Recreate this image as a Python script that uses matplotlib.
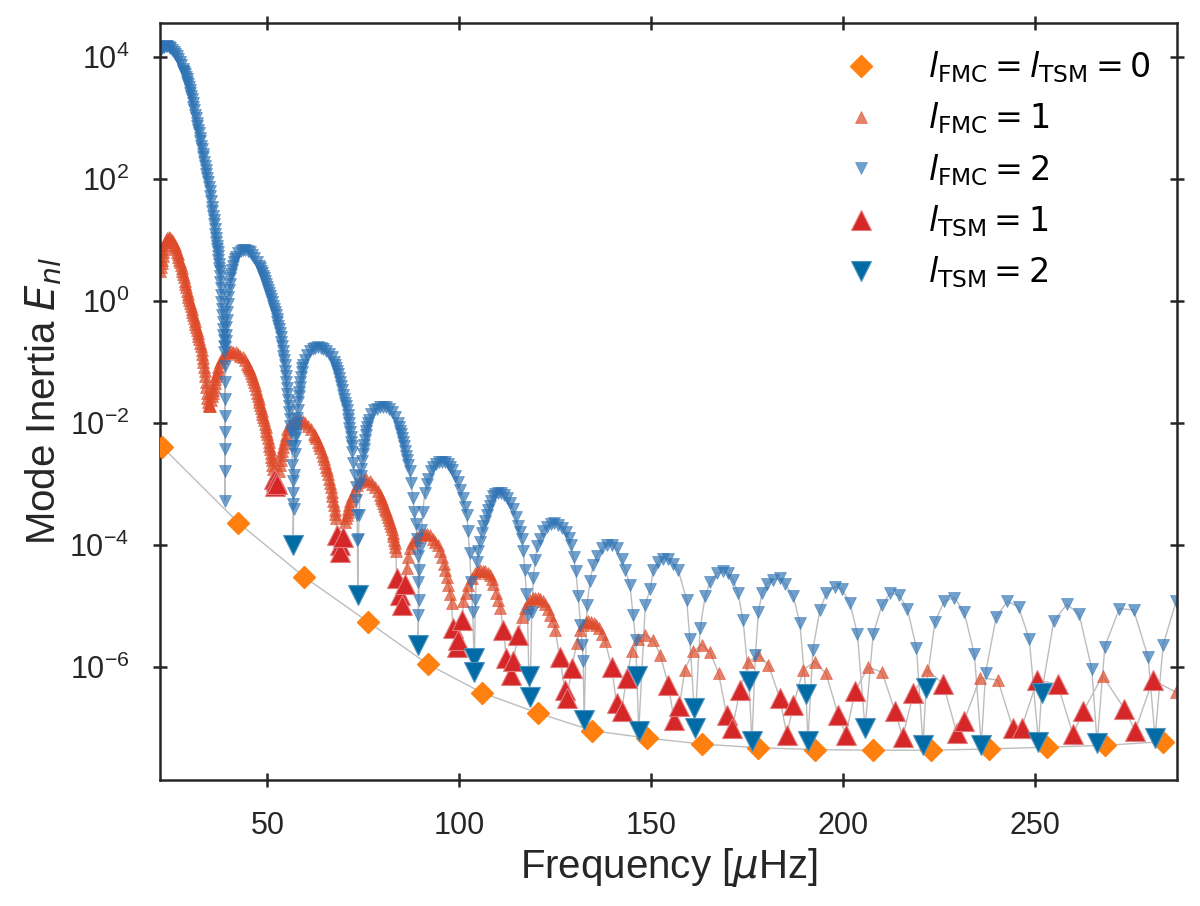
import numpy as np
import matplotlib
matplotlib.use('Agg')
import matplotlib.pyplot as plt
from matplotlib.ticker import NullLocator

plt.rcParams['font.family'] = ['Liberation Sans', 'DejaVu Sans']
plt.rcParams['mathtext.fontset'] = 'dejavusans'

# columns: frequency [muHz], log10 of mode inertia

# radial modes
l0 = np.array([
    [22.6, -2.39], [42.4, -3.63], [59.6, -4.52], [76.3, -5.26], [91.8, -5.95],
    [106.0, -6.42], [120.5, -6.75], [134.7, -7.04], [148.9, -7.16], [163.4, -7.26],
    [178.0, -7.32], [192.7, -7.35], [207.9, -7.36], [222.9, -7.36], [238.1, -7.34],
    [253.1, -7.31], [268.3, -7.28], [283.5, -7.22],
])

# l = 1, full mode calculation
l1_fmc = np.array([
    [22.1, 0.50], [22.25, 0.56], [22.4, 0.62], [22.55, 0.68], [22.7, 0.74], [22.85, 0.80],
    [23.0, 0.86], [23.2, 0.92], [23.4, 0.97], [23.6, 1.0], [23.8, 1.03], [24.2, 1.05],
    [24.6, 1.04], [25.0, 1.01], [25.4, 0.97], [25.8, 0.92], [26.0, 0.89], [26.2, 0.85],
    [26.4, 0.81], [26.6, 0.77], [26.8, 0.73], [27.0, 0.68], [27.2, 0.64], [27.4, 0.59],
    [27.6, 0.54], [27.8, 0.49], [28.0, 0.44], [28.2, 0.39], [28.4, 0.34], [28.6, 0.28],
    [28.8, 0.23], [29.0, 0.17], [29.2, 0.12], [29.4, 0.07], [29.6, 0.02], [29.8, -0.03],
    [30.0, -0.08], [30.2, -0.13], [30.4, -0.18], [30.6, -0.22], [30.8, -0.27], [31.0, -0.32],
    [31.2, -0.37], [31.4, -0.42], [31.6, -0.47], [31.8, -0.52], [32.0, -0.57], [32.2, -0.62],
    [32.4, -0.68], [32.6, -0.74], [32.8, -0.80], [33.0, -0.87], [33.15, -0.93], [33.3, -1.0],
    [33.45, -1.07], [33.6, -1.15], [33.75, -1.23], [33.9, -1.32], [34.05, -1.41], [34.2, -1.5],
    [34.35, -1.58], [34.5, -1.65], [34.65, -1.70], [34.8, -1.72], [35.1, -1.72], [35.4, -1.62],
    [35.55, -1.56], [35.7, -1.50], [35.85, -1.45], [36.0, -1.40], [36.2, -1.34], [36.4, -1.28],
    [36.6, -1.22], [36.8, -1.17], [37.0, -1.12], [37.2, -1.08], [37.7, -1.0], [38.2, -0.93],
    [38.7, -0.88], [39.3, -0.85], [39.9, -0.83], [40.5, -0.82], [41.1, -0.83], [41.7, -0.84],
    [42.3, -0.86], [42.9, -0.89], [43.5, -0.92], [44.1, -0.97], [44.7, -1.03], [45.0, -1.06],
    [45.3, -1.1], [45.55, -1.13], [45.8, -1.17], [46.05, -1.22], [46.3, -1.27], [46.55, -1.32],
    [46.8, -1.38], [47.05, -1.44], [47.3, -1.5], [47.5, -1.55], [47.7, -1.6], [47.9, -1.65],
    [48.1, -1.7], [48.3, -1.75], [48.5, -1.8], [48.7, -1.85], [48.9, -1.9], [49.1, -1.95],
    [49.3, -2.01], [49.5, -2.06], [49.7, -2.12], [49.9, -2.18], [50.1, -2.24], [50.3, -2.3],
    [50.5, -2.37], [50.65, -2.43], [50.8, -2.49], [50.95, -2.55], [51.1, -2.61],
    [51.25, -2.68], [51.4, -2.75],
    [53.0, -2.78], [53.2, -2.69], [53.4, -2.6], [53.6, -2.52], [53.8, -2.45], [54.0, -2.39],
    [54.2, -2.33], [54.45, -2.26], [54.7, -2.2], [55.2, -2.1], [55.8, -2.03], [56.4, -1.99],
    [57.1, -1.96], [57.8, -1.95], [58.5, -1.95], [59.2, -1.97], [59.9, -2.0], [60.6, -2.04],
    [61.3, -2.1], [62.0, -2.17], [62.35, -2.21], [62.7, -2.25], [63.05, -2.3], [63.4, -2.35],
    [63.75, -2.41], [64.1, -2.47], [64.4, -2.53], [64.7, -2.59], [65.0, -2.65], [65.3, -2.71],
    [65.55, -2.77], [65.8, -2.84], [66.05, -2.91], [66.3, -2.98], [66.5, -3.05], [66.7, -3.12],
    [66.9, -3.19], [67.1, -3.27], [67.3, -3.34], [67.5, -3.42], [67.65, -3.49], [67.8, -3.56],
    [70.2, -3.62], [70.45, -3.56], [70.7, -3.5], [70.9, -3.45], [71.1, -3.40], [71.35, -3.34],
    [71.6, -3.28], [72.1, -3.19], [72.7, -3.1], [73.3, -3.02], [73.9, -2.96], [74.5, -2.93],
    [75.1, -2.91], [75.8, -2.92], [76.6, -2.95], [77.3, -3.0], [78.0, -3.05], [78.7, -3.11],
    [79.3, -3.18], [79.6, -3.22], [79.9, -3.26], [80.2, -3.3], [80.5, -3.35], [80.75, -3.4],
    [81.0, -3.44], [81.25, -3.49], [81.5, -3.54], [81.75, -3.59], [82.0, -3.64], [82.2, -3.69],
    [82.4, -3.74], [82.6, -3.8], [82.8, -3.85], [83.0, -3.91], [83.2, -3.97], [83.35, -4.03],
    [83.5, -4.1],
    [86.3, -4.38], [86.7, -4.2], [87.2, -4.05], [87.8, -3.97], [88.5, -3.92], [89.1, -3.86],
    [89.8, -3.83], [90.4, -3.81], [91.1, -3.81], [91.7, -3.82], [92.4, -3.84], [93.2, -3.89],
    [93.8, -3.94], [94.5, -4.0], [95.0, -4.09], [95.4, -4.19], [95.9, -4.30], [96.3, -4.41],
    [96.7, -4.52], [97.1, -4.65], [97.6, -4.8], [98.0, -4.95],
    [101.1, -4.92], [101.8, -4.78], [102.4, -4.65], [103.3, -4.54], [104.1, -4.46],
    [104.8, -4.42], [105.4, -4.41], [106.1, -4.42], [106.7, -4.43], [107.4, -4.46],
    [108.0, -4.49], [108.5, -4.56], [108.9, -4.63], [109.7, -4.79], [110.2, -4.9],
    [110.7, -5.03],
    [116.3, -5.17], [117.2, -5.03], [117.9, -4.94], [118.5, -4.9], [119.2, -4.87],
    [119.8, -4.86], [120.5, -4.87], [121.1, -4.88], [121.8, -4.92], [122.4, -4.97],
    [123.1, -5.05], [123.7, -5.14], [124.4, -5.25], [125.0, -5.39],
    [130.65, -5.61], [131.45, -5.39], [132.15, -5.3], [132.95, -5.26], [133.65, -5.25],
    [134.4, -5.26], [135.0, -5.27], [135.7, -5.31], [136.3, -5.36], [137.1, -5.46],
    [138.0, -5.57],
    [145.0, -5.74], [146.7, -5.53], [148.5, -5.47], [150.6, -5.55], [152.4, -5.80],
    [158.8, -6.04], [161.0, -5.74], [163.2, -5.63], [165.4, -5.75], [167.6, -6.10],
    [175.4, -5.91], [178.0, -5.80], [180.6, -5.96],
    [189.7, -6.04], [192.7, -5.91], [195.6, -6.10], [206.6, -6.00], [210.2, -6.08],
    [222.0, -6.04], [235.8, -6.17], [240.4, -6.21], [267.7, -6.14], [286.9, -6.41],
])

# l = 2, full mode calculation
l2_fmc = np.array([
    [22.05, 4.10], [22.3, 4.13], [22.7, 4.16], [23.1, 4.17], [23.5, 4.18], [23.9, 4.18],
    [24.3, 4.17], [24.7, 4.15], [25.1, 4.12], [25.5, 4.09], [25.9, 4.06], [26.3, 4.02],
    [26.7, 3.97], [27.1, 3.92], [27.5, 3.87], [27.9, 3.81], [28.1, 3.78], [28.3, 3.75],
    [28.5, 3.72], [28.7, 3.68], [28.9, 3.64], [29.1, 3.60], [29.3, 3.56], [29.5, 3.52],
    [29.7, 3.47], [29.9, 3.42], [30.1, 3.37], [30.3, 3.31], [30.5, 3.25], [30.7, 3.19],
    [30.9, 3.13], [31.1, 3.06], [31.3, 3.00], [31.5, 2.93], [31.7, 2.87], [31.9, 2.81],
    [32.1, 2.75], [32.3, 2.68], [32.5, 2.62], [32.7, 2.55], [32.9, 2.49], [33.1, 2.42],
    [33.3, 2.36], [33.5, 2.29], [33.7, 2.22], [33.9, 2.15], [34.1, 2.09], [34.3, 2.02],
    [34.5, 1.95], [34.7, 1.88], [34.9, 1.80], [35.1, 1.72], [35.3, 1.64], [35.5, 1.55],
    [35.65, 1.48], [35.8, 1.40], [35.95, 1.33], [36.1, 1.26], [36.25, 1.18], [36.4, 1.11],
    [36.55, 1.04], [36.7, 0.97], [36.8, 0.91], [36.9, 0.86], [37.0, 0.80], [37.1, 0.74],
    [37.2, 0.68], [37.3, 0.61], [37.4, 0.55], [37.5, 0.49], [37.6, 0.42], [37.7, 0.32],
    [37.8, 0.21], [37.9, 0.10], [38.0, -0.01], [38.1, -0.12], [38.2, -0.23], [38.3, -0.34],
    [38.4, -0.45], [38.5, -0.55], [38.6, -0.64], [38.7, -0.74], [38.75, -0.83],
    [38.8, -1.06], [38.85, -1.32], [38.88, -1.60], [38.9, -1.88], [38.92, -2.14],
    [38.94, -2.42], [38.96, -2.78], [38.98, -3.27],
    [39.05, -0.75], [39.12, -0.65], [39.2, -0.55], [39.3, -0.42], [39.4, -0.30], [39.5, -0.17],
    [39.6, -0.05], [39.75, 0.07], [39.9, 0.18], [40.1, 0.28], [40.3, 0.38], [40.5, 0.45],
    [40.7, 0.52], [40.95, 0.58], [41.2, 0.64], [41.5, 0.69], [41.8, 0.73], [42.4, 0.79],
    [43.0, 0.82], [43.6, 0.84], [44.2, 0.84], [44.8, 0.83], [45.4, 0.80], [46.0, 0.76],
    [46.6, 0.71], [47.2, 0.65], [47.8, 0.58], [48.1, 0.54], [48.4, 0.50], [48.65, 0.46],
    [48.9, 0.42], [49.15, 0.38], [49.4, 0.33], [49.65, 0.29], [49.9, 0.24], [50.15, 0.19],
    [50.4, 0.14], [50.65, 0.09], [50.9, 0.04], [51.15, -0.01], [51.4, -0.07], [51.65, -0.12],
    [51.9, -0.18], [52.15, -0.23], [52.4, -0.29], [52.6, -0.34], [52.8, -0.40], [53.0, -0.46],
    [53.2, -0.52], [53.4, -0.59], [53.6, -0.66], [53.8, -0.74], [54.0, -0.82], [54.15, -0.89],
    [54.3, -0.97], [54.45, -1.05], [54.6, -1.14], [54.75, -1.23], [54.9, -1.32],
    [55.05, -1.42], [55.2, -1.52], [55.35, -1.62], [55.5, -1.72], [55.65, -1.82],
    [55.8, -1.93], [55.95, -2.04], [56.1, -2.15], [56.35, -2.37], [56.5, -2.69],
    [56.6, -2.94], [56.65, -3.15], [56.7, -3.32],
    [56.8, -3.4], [56.95, -2.85], [57.1, -2.5], [57.2, -2.37], [57.3, -2.25], [57.4, -2.17],
    [57.5, -2.09], [57.6, -2.0], [57.7, -1.92], [57.85, -1.78], [58.0, -1.65], [58.1, -1.56],
    [58.2, -1.48], [58.35, -1.40], [58.5, -1.32], [58.7, -1.24], [58.9, -1.16], [59.1, -1.1],
    [59.3, -1.05], [59.8, -0.96], [60.4, -0.88], [61.1, -0.82], [61.8, -0.78], [62.5, -0.76],
    [63.2, -0.75], [63.9, -0.76], [64.6, -0.78], [65.3, -0.81], [66.0, -0.86], [66.7, -0.92],
    [67.3, -1.0], [67.6, -1.04], [67.9, -1.09], [68.2, -1.14], [68.5, -1.2], [68.75, -1.26],
    [69.0, -1.32], [69.25, -1.39], [69.5, -1.46], [69.75, -1.53], [70.0, -1.6],
    [70.25, -1.66], [70.5, -1.72], [70.7, -1.79], [70.9, -1.86], [71.05, -1.93], [71.2, -2.0],
    [71.35, -2.07], [71.5, -2.14], [71.65, -2.22], [71.8, -2.3], [71.95, -2.38],
    [72.1, -2.47], [72.4, -2.65], [72.7, -2.85], [73.0, -3.05], [73.2, -3.26],
    [73.35, -3.51], [73.45, -3.92],
    [73.7, -3.9], [73.9, -3.5], [74.2, -3.0], [74.35, -2.87], [74.5, -2.75], [74.7, -2.62],
    [74.9, -2.5], [75.05, -2.42], [75.2, -2.35], [75.4, -2.27], [75.6, -2.2], [75.8, -2.13],
    [76.0, -2.06], [76.25, -2.0], [76.5, -1.94], [77.1, -1.85], [77.8, -1.79], [78.5, -1.76],
    [79.3, -1.74], [80.1, -1.73], [80.9, -1.74], [81.7, -1.77], [82.5, -1.82], [83.3, -1.9],
    [84.0, -2.0], [84.3, -2.06], [84.6, -2.12], [84.9, -2.18], [85.2, -2.25], [85.45, -2.31],
    [85.7, -2.37], [85.95, -2.45], [86.2, -2.53], [86.45, -2.6], [86.7, -2.68], [87.1, -2.79],
    [87.5, -2.98], [87.9, -3.23], [88.3, -3.45], [88.7, -3.65], [89.0, -3.9],
    [89.2, -4.18], [89.3, -4.6], [89.35, -5.15],
    [89.45, -4.9], [89.6, -4.4], [89.8, -4.05], [90.1, -3.75], [90.5, -3.45], [91.0, -3.15],
    [91.5, -3.0], [91.9, -2.91], [92.6, -2.78], [93.2, -2.71], [93.9, -2.67], [94.7, -2.64],
    [95.5, -2.63], [96.3, -2.64], [97.0, -2.67], [97.6, -2.71], [98.2, -2.77], [98.9, -2.86],
    [99.6, -2.96], [100.3, -3.09], [100.9, -3.23], [101.5, -3.37], [102.0, -3.51],
    [102.3, -3.77], [102.7, -4.13], [103.1, -4.6], [103.5, -5.1],
    [104.2, -4.9], [104.6, -4.27], [105.0, -4.1], [105.4, -3.94], [105.8, -3.8], [106.2, -3.69],
    [106.7, -3.6], [107.2, -3.51], [107.6, -3.42], [108.0, -3.35], [108.4, -3.27],
    [108.8, -3.20], [109.4, -3.16], [110.1, -3.14], [110.8, -3.15], [111.6, -3.18],
    [112.4, -3.23], [113.2, -3.31], [114.0, -3.40], [114.7, -3.53], [115.3, -3.68],
    [115.8, -3.78], [116.3, -3.89], [116.7, -4.1], [117.1, -4.41], [117.5, -4.8], [117.8, -5.15],
    [118.9, -5.1], [119.3, -4.54], [119.8, -4.25], [120.3, -4.02], [121.1, -3.89],
    [121.8, -3.76], [122.8, -3.7], [123.8, -3.65], [124.8, -3.63], [125.8, -3.66],
    [126.8, -3.71], [127.8, -3.78], [128.5, -3.88], [129.1, -4.0], [129.8, -4.2],
    [130.4, -4.43], [131.0, -4.84], [131.6, -5.3], [132.1, -5.64], [132.3, -5.9],
    [133.3, -4.98], [134.1, -4.58], [134.9, -4.33], [135.9, -4.17], [137.2, -4.05],
    [138.5, -4.0], [139.7, -4.0], [141.0, -4.05], [142.3, -4.22], [143.3, -4.41],
    [144.5, -4.65], [145.3, -5.14], [146.0, -5.55],
    [148.5, -4.98], [149.8, -4.71], [150.6, -4.41], [151.9, -4.27], [153.2, -4.22],
    [154.5, -4.22], [155.8, -4.30], [157.1, -4.41], [159.3, -4.90], [160.1, -5.53],
    [162.8, -5.36], [164.1, -4.84], [165.4, -4.60], [167.1, -4.46], [168.8, -4.43],
    [170.1, -4.46], [171.4, -4.57], [172.7, -4.79], [174.0, -5.23],
    [177.2, -5.80], [178.0, -5.09], [178.9, -4.79], [180.2, -4.63], [181.9, -4.57],
    [183.6, -4.54], [184.9, -4.63], [187.1, -4.84], [188.8, -5.28],
    [192.2, -5.71], [194.0, -5.06], [195.7, -4.79], [198.0, -4.68], [199.7, -4.72],
    [201.9, -4.95], [203.8, -5.46], [207.9, -5.46], [210.2, -4.98], [212.3, -4.79],
    [214.7, -4.82], [216.8, -5.04], [219.2, -5.69], [224.0, -5.26], [226.4, -4.92],
    [229.1, -4.86], [231.6, -5.09], [234.3, -5.79], [237.2, -6.10], [240.0, -5.17],
    [242.9, -4.92], [245.8, -5.01], [248.6, -5.54], [255.0, -5.24], [258.4, -4.97],
    [261.6, -5.13], [264.9, -6.03], [268.3, -5.66], [272.1, -5.04], [275.8, -5.06],
    [279.6, -5.84], [283.5, -5.63], [286.9, -4.92],
])

# l = 1, TSM
l1_tsm = np.array([
    [51.7, -2.92], [52.0, -3.03], [52.3, -2.95], [52.6, -3.0],
    [68.05, -3.83], [68.8, -4.0], [69.0, -4.11], [69.75, -3.86],
    [83.65, -4.54], [84.55, -4.82], [84.95, -4.98], [85.85, -4.63],
    [98.35, -5.36], [99.35, -5.66], [99.65, -5.56], [100.75, -5.23],
    [111.5, -5.39], [112.3, -5.85], [113.45, -6.13], [114.05, -5.90], [115.35, -5.47],
    [126.2, -5.83], [127.5, -6.37], [128.1, -6.51], [129.3, -6.02],
    [139.7, -5.99], [141.0, -6.59], [142.3, -6.72], [143.6, -6.18],
    [154.5, -6.29], [156.0, -6.86], [157.4, -6.64],
    [169.7, -6.78], [171.2, -7.0], [173.2, -6.37],
    [183.6, -6.51], [185.4, -7.11], [187.1, -6.62],
    [198.8, -6.78], [200.8, -7.11], [203.2, -6.39],
    [213.6, -6.72], [215.6, -7.14], [218.4, -6.43],
    [226.2, -6.28], [229.7, -7.08], [231.6, -6.88],
    [244.3, -6.99], [246.6, -6.99], [250.7, -6.21], [256.0, -6.28], [260.0, -7.10],
    [262.7, -6.72], [273.4, -6.68], [276.2, -7.04], [280.8, -6.21],
])

# l = 2, TSM
l2_tsm = np.array([
    [56.7, -4.0], [73.55, -4.82], [89.3, -5.64], [103.85, -5.85], [103.9, -6.07],
    [118.15, -6.15], [118.45, -6.48], [132.55, -6.87], [146.3, -6.15], [146.8, -7.04],
    [161.2, -6.66], [161.4, -7.0], [175.5, -6.23], [176.3, -7.21], [190.4, -6.44],
    [190.9, -7.21], [205.8, -7.0], [220.9, -7.27], [221.7, -6.34], [236.1, -7.28],
    [251.0, -7.22], [251.8, -6.43], [266.3, -7.25], [281.4, -7.16],
])

fig = plt.figure(figsize=(12, 9.06), dpi=100)
ax = fig.add_axes([0.1333, 0.1391, 0.8478, 0.8359])

# thin connecting lines, each degree sorted by frequency
line_kw = dict(color='#bdbdbd', lw=1.0, zorder=1)
ax.plot(l0[:, 0], 10 ** l0[:, 1], **line_kw)
for fmc, tsm in [(l1_fmc, l1_tsm), (l2_fmc, l2_tsm)]:
    both = np.vstack([fmc, tsm])
    both = both[np.argsort(both[:, 0], kind='stable')]
    ax.plot(both[:, 0], 10 ** both[:, 1], **line_kw)

ax.plot(l0[:, 0], 10 ** l0[:, 1], ls='none', marker='D', ms=11.5, color='#ff800e',
        zorder=3, label=r'$l_{\rm FMC} = l_{\rm TSM} = 0$')
ax.plot(l1_fmc[:, 0], 10 ** l1_fmc[:, 1], ls='none', marker='^', ms=9, color='#de4a2a',
        alpha=0.7, mew=0.5, zorder=2, label=r'$l_{\rm FMC} = 1$')
ax.plot(l2_fmc[:, 0], 10 ** l2_fmc[:, 1], ls='none', marker='v', ms=9, color='#2f74b5',
        alpha=0.68, mew=0.5, zorder=2, label=r'$l_{\rm FMC} = 2$')
ax.plot(l1_tsm[:, 0], 10 ** l1_tsm[:, 1], ls='none', marker='^', ms=14, color='#d62728',
        mec='#e27b7c', mew=0.8, zorder=4, label=r'$l_{\rm TSM} = 1$')
ax.plot(l2_tsm[:, 0], 10 ** l2_tsm[:, 1], ls='none', marker='v', ms=14, color='#006ba4',
        mec='#4f93bd', mew=0.8, zorder=5, label=r'$l_{\rm TSM} = 2$')

ax.set_yscale('log')
ax.set_xlim(21.97, 287.2)
ax.set_ylim(10 ** -7.848, 10 ** 4.567)
ax.set_xticks([50, 100, 150, 200, 250])
ax.set_yticks([1e-6, 1e-4, 1e-2, 1e0, 1e2, 1e4])
ax.yaxis.set_minor_locator(NullLocator())
ax.xaxis.set_minor_locator(NullLocator())

dark = '#262626'
for sp in ax.spines.values():
    sp.set_linewidth(1.8)
    sp.set_color(dark)
ax.tick_params(which='major', direction='inout', length=10, width=1.8, top=True,
               right=True, color=dark, labelcolor=dark, labelsize=22, pad=17)

ax.set_xlabel(r'Frequency [$\mu$Hz]', fontsize=29, color=dark, labelpad=4)
ax.set_ylabel(r'Mode Inertia $E_{nl}$', fontsize=29, color=dark, labelpad=4)

ax.legend(loc='upper right', frameon=False, fontsize=24, handletextpad=1.0,
          labelspacing=0.47, borderaxespad=0.4)

fig.savefig('out.png', dpi=100)
